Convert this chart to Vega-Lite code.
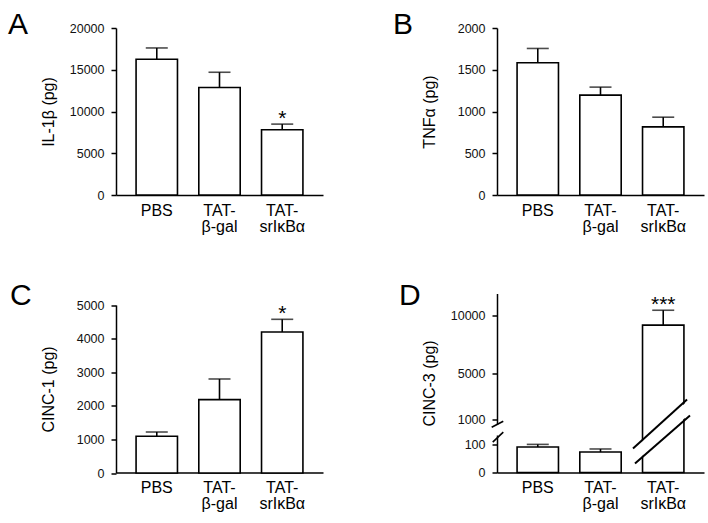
{
  "$schema": "https://vega.github.io/schema/vega-lite/v6.json",
  "background": "white",
  "padding": {"left": 8, "top": 9, "right": 4, "bottom": 10},
  "bounds": "flush",
  "columns": 2,
  "spacing": {"row": 98.5, "column": 174},
  "config": {
    "font": "Liberation Sans",
    "view": {"stroke": null},
    "axis": {"domainColor": "black", "domainWidth": 1.5, "tickColor": "black", "tickWidth": 1.5, "tickSize": 5, "labelColor": "#111", "labelFontSize": 12.5, "labelPadding": 7, "titleFontSize": 16, "titleFontWeight": "normal", "titleColor": "black", "grid": false, "labelOverlap": false},
    "axisY": {"minExtent": 45, "maxExtent": 45, "titlePadding": 15, "tickCount": 12},
    "axisX": {"ticks": false, "labelFontSize": 16, "labelPadding": 7, "labelAngle": 0, "labelLineHeight": 16, "labelColor": "black", "title": null, "labelExpr": "datum.value == 'PBS' ? 'PBS' : ['TAT-', slice(datum.value, 4)]"},
    "title": {"fontSize": 30, "fontWeight": "normal", "color": "black", "anchor": "start", "frame": "group", "baseline": "alphabetic", "offset": 0}
  },
  "concat": [
    {
      "title": {"text": "A", "dx": -108, "dy": 21.5},
      "width": 207, "height": 167,
      "data": {"values": [
        {"group": "PBS", "value": 16260, "err": 17610, "sig": ""},
        {"group": "TAT-β-gal", "value": 12870, "err": 14700, "sig": ""},
        {"group": "TAT-srIκBα", "value": 7810, "err": 8490, "sig": "*"}
      ]},
      "encoding": {
        "x": {"field": "group", "type": "nominal", "sort": null, "scale": {"paddingInner": 0.34, "paddingOuter": 0.32}}
      },
      "layer": [
        {"mark": {"type": "bar", "fill": "white", "stroke": "black", "strokeWidth": 1.6},
         "encoding": {"y": {"field": "value", "type": "quantitative", "title": "IL-1β (pg)", "scale": {"domain": [0, 20000], "nice": false}, "axis": {"values": [0, 5000, 10000, 15000, 20000], "format": "d", "tickCount": 12}}}},
        {"mark": {"type": "rule", "color": "black", "strokeWidth": 1.6},
         "encoding": {"y": {"field": "value", "type": "quantitative"}, "y2": {"field": "err"}}},
        {"mark": {"type": "tick", "color": "black", "thickness": 1.6, "size": 22},
         "encoding": {"y": {"field": "err", "type": "quantitative"}}},
        {"mark": {"type": "text", "fontSize": 21, "baseline": "alphabetic", "dy": 1, "color": "black"},
         "encoding": {"y": {"field": "err", "type": "quantitative"}, "text": {"field": "sig"}}}
      ]
    },
    {
      "title": {"text": "B", "dx": -104, "dy": 21.5},
      "width": 207, "height": 167,
      "data": {"values": [
        {"group": "PBS", "value": 1584, "err": 1755, "sig": ""},
        {"group": "TAT-β-gal", "value": 1196, "err": 1292, "sig": ""},
        {"group": "TAT-srIκBα", "value": 816, "err": 932, "sig": ""}
      ]},
      "encoding": {
        "x": {"field": "group", "type": "nominal", "sort": null, "scale": {"paddingInner": 0.34, "paddingOuter": 0.32}}
      },
      "layer": [
        {"mark": {"type": "bar", "fill": "white", "stroke": "black", "strokeWidth": 1.6},
         "encoding": {"y": {"field": "value", "type": "quantitative", "title": "TNFα (pg)", "scale": {"domain": [0, 2000], "nice": false}, "axis": {"values": [0, 500, 1000, 1500, 2000], "format": "d", "tickCount": 12}}}},
        {"mark": {"type": "rule", "color": "black", "strokeWidth": 1.6},
         "encoding": {"y": {"field": "value", "type": "quantitative"}, "y2": {"field": "err"}}},
        {"mark": {"type": "tick", "color": "black", "thickness": 1.6, "size": 22},
         "encoding": {"y": {"field": "err", "type": "quantitative"}}}
      ]
    },
    {
      "title": {"text": "C", "dx": -106, "dy": 21.5},
      "width": 207, "height": 179,
      "data": {"values": [
        {"group": "PBS", "value": 1092, "err": 1220, "sig": ""},
        {"group": "TAT-β-gal", "value": 2184, "err": 2798, "sig": ""},
        {"group": "TAT-srIκBα", "value": 4196, "err": 4574, "sig": "*"}
      ]},
      "encoding": {
        "x": {"field": "group", "type": "nominal", "sort": null, "scale": {"paddingInner": 0.34, "paddingOuter": 0.32}}
      },
      "layer": [
        {"mark": {"type": "bar", "fill": "white", "stroke": "black", "strokeWidth": 1.6},
         "encoding": {"y": {"field": "value", "type": "quantitative", "title": "CINC-1 (pg)", "scale": {"domain": [0, 5000], "nice": false, "range": [179.5, 11.5]}, "axis": {"values": [0, 1000, 2000, 3000, 4000, 5000], "format": "d", "tickCount": 12}}}},
        {"mark": {"type": "rule", "color": "black", "strokeWidth": 1.6},
         "encoding": {"y": {"field": "value", "type": "quantitative"}, "y2": {"field": "err"}}},
        {"mark": {"type": "tick", "color": "black", "thickness": 1.6, "size": 22},
         "encoding": {"y": {"field": "err", "type": "quantitative"}}},
        {"mark": {"type": "text", "fontSize": 21, "baseline": "alphabetic", "dy": 1, "color": "black"},
         "encoding": {"y": {"field": "err", "type": "quantitative"}, "text": {"field": "sig"}}}
      ]
    },
    {
      "title": {"text": "D", "dx": -98, "dy": 21.5},
      "width": 207, "height": 179,
      "resolve": {"scale": {"x": "independent"}, "axis": {"x": "independent"}},
      "layer": [
        {
          "data": {"values": [
            {"group": "PBS", "value": 91, "err": 104, "sig": ""},
            {"group": "TAT-β-gal", "value": 73, "err": 84, "sig": ""},
            {"group": "TAT-srIκBα", "value": 9145, "err": 10427, "sig": "***"}
          ]},
          "encoding": {
            "x": {"field": "group", "type": "nominal", "sort": null, "scale": {"paddingInner": 0.34, "paddingOuter": 0.32}}
          },
          "layer": [
            {"mark": {"type": "bar", "fill": "white", "stroke": "black", "strokeWidth": 1.6},
             "encoding": {"y": {"field": "value", "type": "quantitative", "title": "CINC-3 (pg)", "scale": {"domain": [0, 100, 1000, 11872], "range": [179, 151, 126, 0], "nice": false, "zero": false}, "axis": {"values": [0, 100, 1000, 5000, 10000], "format": "d", "tickCount": 12}}}},
            {"mark": {"type": "rule", "color": "black", "strokeWidth": 1.6},
             "encoding": {"y": {"field": "value", "type": "quantitative"}, "y2": {"field": "err"}}},
            {"mark": {"type": "tick", "color": "black", "thickness": 1.6, "size": 22},
             "encoding": {"y": {"field": "err", "type": "quantitative"}}},
            {"mark": {"type": "text", "fontSize": 21, "baseline": "alphabetic", "dy": 1, "color": "black"},
             "encoding": {"y": {"field": "err", "type": "quantitative"}, "text": {"field": "sig"}}}
          ]
        },
        {
          "data": {"values": [
            {"part": "barGap", "x1": 1.986, "x2": 2.775, "y1": 59, "y2": 2035},
            {"part": "barSlash", "x1": 1.971, "x2": 2.754, "y1": 86, "y2": 2726},
            {"part": "barSlash", "x1": 2.0, "x2": 2.797, "y1": 32, "y2": 1345},
            {"part": "axisGap", "x1": 0, "x2": 0, "y1": 424, "y2": 820},
            {"part": "axisSlash", "x1": -0.077, "x2": 0.091, "y1": 723, "y2": 939},
            {"part": "axisSlash", "x1": -0.062, "x2": 0.091, "y1": 183, "y2": 543}
          ]},
          "encoding": {
            "x": {"field": "x1", "type": "quantitative", "scale": {"domain": [0, 3], "nice": false, "zero": false}, "axis": null},
            "x2": {"field": "x2"},
            "y": {"field": "y1", "type": "quantitative"},
            "y2": {"field": "y2"}
          },
          "layer": [
            {"transform": [{"filter": "datum.part == 'barGap'"}], "mark": {"type": "rule", "color": "white", "strokeWidth": 11, "strokeCap": "butt"}},
            {"transform": [{"filter": "datum.part == 'barSlash'"}], "mark": {"type": "rule", "color": "black", "strokeWidth": 2}},
            {"transform": [{"filter": "datum.part == 'axisGap'"}], "mark": {"type": "rule", "color": "white", "strokeWidth": 4, "strokeCap": "butt"}},
            {"transform": [{"filter": "datum.part == 'axisSlash'"}], "mark": {"type": "rule", "color": "black", "strokeWidth": 1.6}}
          ]
        }
      ]
    }
  ]
}
